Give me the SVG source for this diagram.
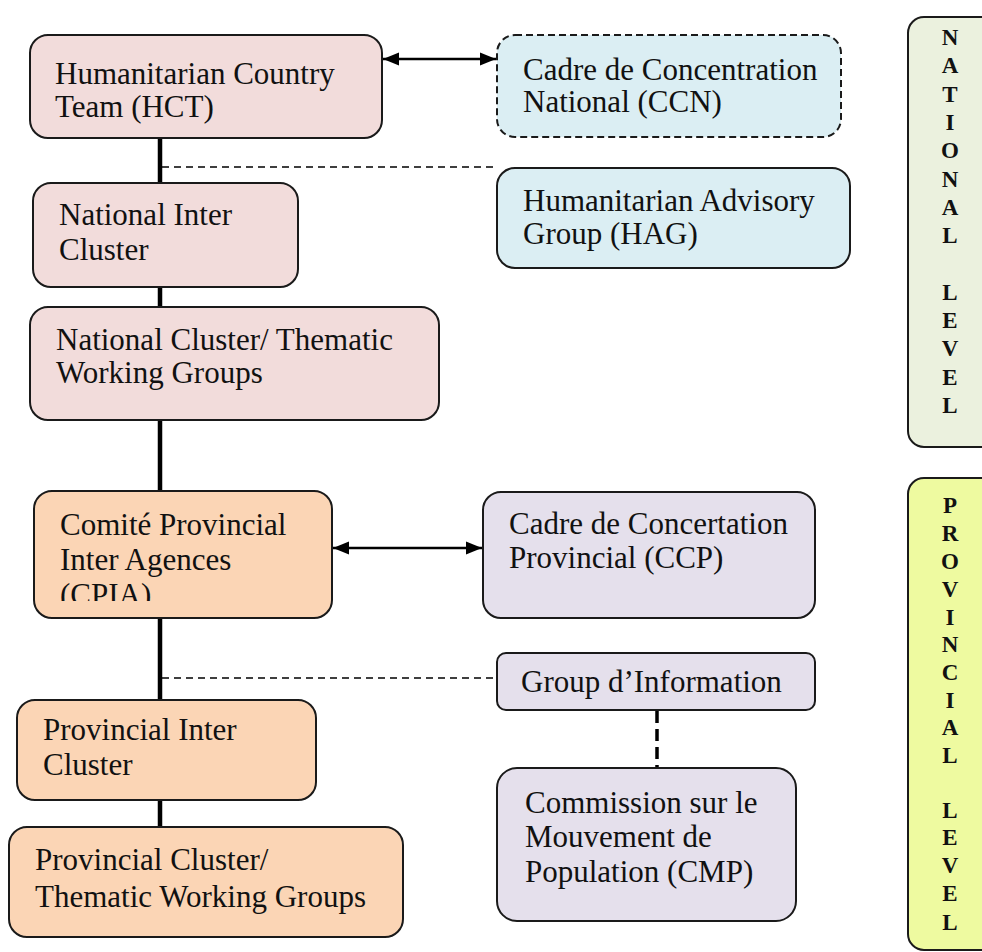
<svg xmlns="http://www.w3.org/2000/svg" width="982" height="952" viewBox="0 0 982 952">
<style>
.box{stroke:#1a1a1a;stroke-width:2}
.pink{fill:#f2dcdb}
.orange{fill:#fbd5b5}
.lav{fill:#e5e0ec}
.blue{fill:#dbeef3}
.t{font-family:"Liberation Serif","Times New Roman",serif;font-size:31px;fill:#111}
.side{font-family:"Liberation Serif","Times New Roman",serif;font-size:23px;font-weight:bold;fill:#111;text-anchor:middle}
.solid{stroke:#000;stroke-width:4.5;fill:none}
.dash{stroke:#000;stroke-width:1.6;stroke-dasharray:7 5;fill:none}
.arr{stroke:#000;stroke-width:2.6;fill:none}
</style>
<defs>
<marker id="ah" markerUnits="userSpaceOnUse" markerWidth="17" markerHeight="14" refX="16" refY="7" orient="auto-start-reverse">
<path d="M0,0.5 L16,7 L0,13.5 Z" fill="#000"/>
</marker>
<clipPath id="cpiaclip"><rect x="34" y="490" width="298" height="111"/></clipPath>
</defs>

<g id="connectors">
<line class="solid" x1="160" y1="138" x2="160" y2="827"/>
<line class="dash" x1="162" y1="167" x2="497" y2="167"/>
<line class="dash" x1="162" y1="678" x2="497" y2="678"/>
<line class="arr" x1="383" y1="59" x2="496" y2="59" marker-start="url(#ah)" marker-end="url(#ah)"/>
<line class="arr" x1="333" y1="548" x2="482" y2="548" marker-start="url(#ah)" marker-end="url(#ah)"/>
<line stroke="#000" stroke-width="3.5" stroke-dasharray="12 6" x1="657" y1="711" x2="657" y2="768"/>
</g>

<g id="hct">
<rect class="box pink" x="30" y="35" width="352" height="103" rx="18"/>
<text class="t" x="55" y="84">Humanitarian Country</text>
<text class="t" x="55" y="117">Team (HCT)</text>
</g>

<g id="ccn">
<rect class="box blue" x="497" y="35" width="344" height="102" rx="18" stroke-dasharray="7 4"/>
<text class="t" x="523" y="80">Cadre de Concentration</text>
<text class="t" x="523" y="112">National (CCN)</text>
</g>

<g id="hag">
<rect class="box blue" x="497" y="168" width="353" height="100" rx="18"/>
<text class="t" x="523" y="211">Humanitarian Advisory</text>
<text class="t" x="523" y="244">Group (HAG)</text>
</g>

<g id="nic">
<rect class="box pink" x="33" y="183" width="265" height="104" rx="18"/>
<text class="t" x="59" y="225">National Inter</text>
<text class="t" x="59" y="260">Cluster</text>
</g>

<g id="ncl">
<rect class="box pink" x="30" y="307" width="409" height="113" rx="18"/>
<text class="t" x="56" y="350">National Cluster/ Thematic</text>
<text class="t" x="56" y="383">Working Groups</text>
</g>

<g id="cpia">
<rect class="box orange" x="34" y="491" width="298" height="127" rx="18"/>
<g clip-path="url(#cpiaclip)">
<text class="t" x="60" y="535">Comité Provincial</text>
<text class="t" x="60" y="570">Inter Agences</text>
<text class="t" x="60" y="605">(CPIA)</text>
</g>
</g>

<g id="ccp">
<rect class="box lav" x="483" y="492" width="332" height="126" rx="18"/>
<text class="t" x="509" y="534">Cadre de Concertation</text>
<text class="t" x="509" y="568">Provincial (CCP)</text>
</g>

<g id="gi">
<rect class="box lav" x="497" y="653" width="318" height="57" rx="9"/>
<text class="t" x="521" y="692">Group d’Information</text>
</g>

<g id="cmp">
<rect class="box lav" x="497" y="768" width="299" height="153" rx="20"/>
<text class="t" x="525" y="813">Commission sur le</text>
<text class="t" x="525" y="847">Mouvement de</text>
<text class="t" x="525" y="882">Population (CMP)</text>
</g>

<g id="pic">
<rect class="box orange" x="17" y="700" width="299" height="100" rx="18"/>
<text class="t" x="43" y="740">Provincial Inter</text>
<text class="t" x="43" y="775">Cluster</text>
</g>

<g id="pcl">
<rect class="box orange" x="9" y="827" width="394" height="110" rx="18"/>
<text class="t" x="35" y="870">Provincial Cluster/</text>
<text class="t" x="35" y="907" font-size="32">Thematic Working Groups</text>
</g>

<g id="national-level">
<rect class="box" fill="#ebf1de" x="908" y="17" width="90" height="430" rx="16"/>
<text class="side" x="950" y="45">N</text>
<text class="side" x="950" y="73">A</text>
<text class="side" x="950" y="102">T</text>
<text class="side" x="950" y="130">I</text>
<text class="side" x="950" y="158">O</text>
<text class="side" x="950" y="187">N</text>
<text class="side" x="950" y="215">A</text>
<text class="side" x="950" y="243">L</text>
<text class="side" x="950" y="300">L</text>
<text class="side" x="950" y="328">E</text>
<text class="side" x="950" y="356">V</text>
<text class="side" x="950" y="385">E</text>
<text class="side" x="950" y="413">L</text>
</g>

<g id="provincial-level">
<rect class="box" fill="#eefaa0" x="908" y="478" width="90" height="472" rx="16"/>
<text class="side" x="950" y="513">P</text>
<text class="side" x="950" y="541">R</text>
<text class="side" x="950" y="569">O</text>
<text class="side" x="950" y="597">V</text>
<text class="side" x="950" y="625">I</text>
<text class="side" x="950" y="652">N</text>
<text class="side" x="950" y="680">C</text>
<text class="side" x="950" y="708">I</text>
<text class="side" x="950" y="735">A</text>
<text class="side" x="950" y="763">L</text>
<text class="side" x="950" y="818">L</text>
<text class="side" x="950" y="845">E</text>
<text class="side" x="950" y="873">V</text>
<text class="side" x="950" y="901">E</text>
<text class="side" x="950" y="930">L</text>
</g>
</svg>
